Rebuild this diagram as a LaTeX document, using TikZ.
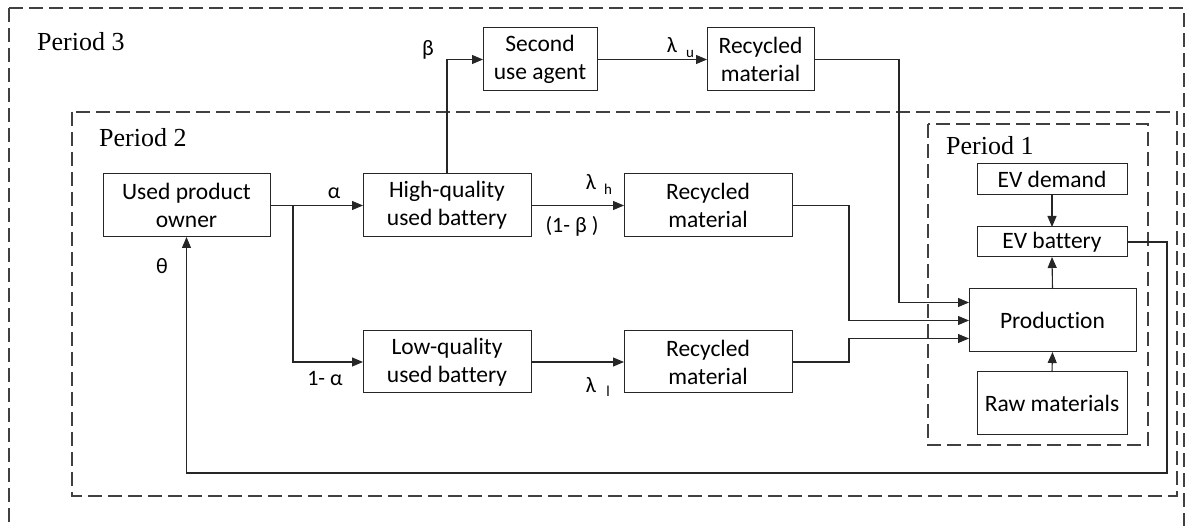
\documentclass[tikz,border=0pt]{standalone}
\usepackage{fontspec}
\setmainfont{Carlito}[Ligatures=NoCommon]
\newfontfamily\perfont{Liberation Serif}
\usetikzlibrary{arrows.meta,calc}
\begin{document}
\begin{tikzpicture}[x=1pt,y=-1pt,
  box/.style={draw=black!85,line width=1pt,inner sep=0pt,outer sep=0pt,align=center,
     font=\fontsize{23.5}{28}\selectfont},
  arr/.style={draw=black!85,line width=1.1pt,-{Triangle[length=11pt,width=9pt]}},
  period/.style={draw=black!75,line width=1.1pt,dash pattern=on 14pt off 6pt},
  plabel/.style={anchor=base west,inner sep=0pt,font=\perfont\fontsize{26}{30}\selectfont},
  glabel/.style={inner sep=0pt,font=\fontsize{22}{25}\selectfont},
  slabel/.style={inner sep=0pt,font=\fontsize{15}{17}\selectfont}]
\useasboundingbox (0,0) rectangle (1187,526);
\clip (0,0) rectangle (1187,526);
% period frames
\draw[period] (9,8) rectangle (1184,560);
\draw[period] (72,112) rectangle (1177,496);
\draw[period] (928,124) rectangle (1148,445);
\node[plabel] (p3) at (37,51) {Period 3};
\node[plabel] (p2) at (99,147) {Period 2};
\node[plabel] (p1) at (946,155) {Period 1};
% boxes
\node[box,minimum width=167pt,minimum height=63pt] (upo) at (186.5,205.5) {Used product\\owner};
\node[box,minimum width=168pt,minimum height=63pt] (hq) at (447,205.5) {High-quality\\used battery};
\node[box,minimum width=168pt,minimum height=62pt] (lq) at (447,362) {Low-quality\\used battery};
\node[box,minimum width=114pt,minimum height=63pt] (sua) at (540,59.5) {Second\\use agent};
\node[box,minimum width=107pt,minimum height=63pt] (rect) at (760.5,59.5) {Recycled\\material};
\node[box,minimum width=168pt,minimum height=63pt] (recm) at (708,205.5) {Recycled\\material};
\node[box,minimum width=168pt,minimum height=62pt] (recl) at (708,362) {Recycled\\material};
\node[box,minimum width=150pt,minimum height=31pt] (evd) at (1052,179.5) {EV demand};
\node[box,minimum width=150pt,minimum height=30pt] (evb) at (1052,242) {EV battery};
\node[box,minimum width=167pt,minimum height=63pt] (prod) at (1052.5,320.5) {Production};
\node[box,minimum width=150pt,minimum height=63pt] (raw) at (1052,403.5) {Raw materials};
% helper coordinates
\coordinate (j) at ([xshift=23pt]upo.east);
\coordinate (pin1) at ([yshift=18pt]prod.west);
\coordinate (pin3) at ([yshift=-18pt]prod.west);
\coordinate (fb) at (1167,473);
% connectors
\draw[arr] (upo.east) -- (hq.west);
\draw[arr] (j) |- (lq.west);
\draw[arr] (hq.north) |- (sua.west);
\draw[arr] (sua.east) -- (rect.west);
\draw[arr] (hq.east) -- (recm.west);
\draw[arr] (lq.east) -- (recl.west);
\draw[arr] (rect.east) -| ([xshift=-70pt]pin1) -- (pin1);
\draw[arr] (recm.east) -| ([xshift=-120pt]prod.west) -- (prod.west);
\draw[arr] (recl.east) -| ([xshift=-120pt]pin3) -- (pin3);
\draw[arr] (evd.south) -- (evb.north);
\draw[arr] (prod.north) -- (evb.south);
\draw[arr] (raw.north) -- (prod.south);
\draw[arr] (evb.east) -| (fb) -| (upo.south);
% labels
\node[glabel] (lb) at (428,50) {β};
\node[glabel] (la) at (334,193) {α};
\node[glabel] (l1a) at (325,378) {1- α};
\node[glabel] (lt) at (162,266) {θ};
\node[glabel] (lu) at (672,45) {λ};
\node[slabel] (lus) at (690,54) {u};
\node[glabel] (lh) at (591,182) {λ};
\node[slabel] (lhs) at (608,189) {h};
\node[glabel] (l1b) at (572,226) {(1- β )};
\node[glabel] (ll) at (591,385) {λ};
\node[slabel] (lls) at (608,391) {l};
\end{tikzpicture}
\end{document}
